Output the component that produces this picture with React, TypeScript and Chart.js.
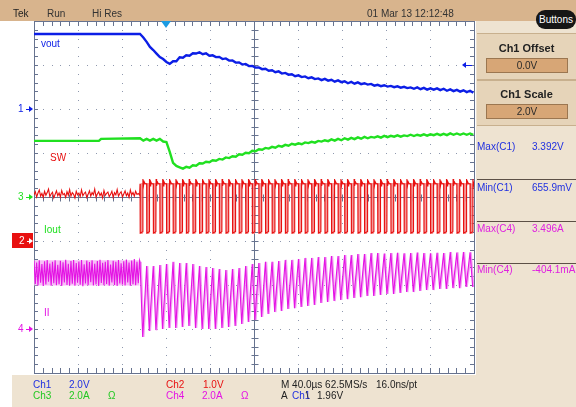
import React, { useEffect, useRef } from "react";
import { Chart, registerables } from "chart.js";

Chart.register(...registerables);

// ---------------- acquisition settings ----------------
const timeMinUs = -120;
const timeMaxUs = 280;
const timePerDivUs = 40;
const gridDivsX = 10;
const gridDivsY = 8;

const ch1VoltsPerDiv = 2.0;
const ch1PosDiv = 2;
const ch2VoltsPerDiv = 1.0;
const ch2PosDiv = -1;
const ch3AmpsPerDiv = 2.0;
const ch3PosDiv = 0;
const ch4AmpsPerDiv = 2.0;
const ch4PosDiv = -3;

// ---------------- data ----------------
const preSampleUs = 1.2; // spacing of the pre-step samples, from timeMinUs
const postStartUs = -23.6; // load step
const postSampleUs = 3.0; // spacing of the vout / iout samples after the step

// Ch1 vout (V)
const voutPreTimesUs = [-120, -23.6];
const voutPreV = [3.41, 3.41];
const voutPostV = [
  3.41, 3.25, 3.05, 2.82, 2.68, 2.52, 2.36, 2.27, 2.14, 2.05,
  2.17, 2.17, 2.35, 2.33, 2.44, 2.42, 2.53, 2.52, 2.58, 2.49,
  2.53, 2.42, 2.44, 2.36, 2.37, 2.27, 2.3, 2.2, 2.21, 2.11,
  2.12, 2.02, 2.05, 1.95, 1.96, 1.88, 1.89, 1.81, 1.83, 1.74,
  1.76, 1.67, 1.71, 1.61, 1.64, 1.56, 1.58, 1.49, 1.53, 1.45,
  1.48, 1.4, 1.44, 1.36, 1.39, 1.31, 1.37, 1.29, 1.33, 1.24,
  1.3, 1.22, 1.26, 1.17, 1.23, 1.15, 1.21, 1.13, 1.17, 1.11,
  1.14, 1.06, 1.1, 1.04, 1.08, 1.02, 1.05, 0.99, 1.03, 0.97,
  1.01, 0.95, 0.98, 0.92, 0.98, 0.9, 0.96, 0.88, 0.94, 0.88,
  0.94, 0.86, 0.92, 0.83, 0.89, 0.81, 0.87, 0.79, 0.85, 0.77,
  0.83, 0.74,
];

// Ch3 Iout (A)
const ioutPreTimesUs = [-120, -61, -59];
const ioutPreA = [2.55, 2.55, 2.64];
const ioutPostA = [
  2.67, 2.56, 2.64, 2.56, 2.64, 2.56, 2.64, 2.52, 2.5, 2.05,
  1.55, 1.41, 1.35, 1.29, 1.37, 1.33, 1.44, 1.42, 1.53, 1.52,
  1.6, 1.58, 1.67, 1.65, 1.73, 1.7, 1.8, 1.77, 1.85, 1.83,
  1.94, 1.92, 2.01, 1.99, 2.1, 2.08, 2.17, 2.15, 2.23, 2.2,
  2.28, 2.24, 2.33, 2.29, 2.37, 2.33, 2.42, 2.38, 2.44, 2.4,
  2.48, 2.45, 2.51, 2.47, 2.55, 2.52, 2.58, 2.54, 2.62, 2.56,
  2.64, 2.58, 2.67, 2.61, 2.69, 2.63, 2.71, 2.65, 2.73, 2.67,
  2.73, 2.7, 2.76, 2.7, 2.78, 2.72, 2.78, 2.74, 2.8, 2.74,
  2.8, 2.77, 2.83, 2.77, 2.83, 2.79, 2.85, 2.79, 2.85, 2.81,
  2.87, 2.81, 2.87, 2.81, 2.89, 2.83, 2.89, 2.83, 2.89, 2.83,
  2.89, 2.83,
];

// Ch2 SW (V): pre-step samples, then switching cycles
const swPreV = [
  1.05, 1.12, 1.0, 1.09, 1.16, 1.02, 1.08, 0.99, 1.13, 1.04,
  1.1, 1.18, 1.01, 1.07, 1.11, 0.98, 1.06, 1.14, 1.03, 1.09,
  1.0, 1.15, 1.05, 1.08, 0.99, 1.12, 1.04, 1.17, 1.02, 1.1,
  1.06, 0.98, 1.13, 1.05, 1.09, 1.01, 1.16, 1.03, 1.08, 1.11,
  0.99, 1.06, 1.14, 1.02, 1.1, 1.05, 1.18, 1.0, 1.07, 1.12,
  1.03, 1.09, 0.98, 1.15, 1.04, 1.08, 1.11, 1.01, 1.06, 1.13,
  0.99, 1.1, 1.05, 1.17, 1.02, 1.08, 1.12, 1.0, 1.07, 1.14,
  1.03, 1.09, 0.99, 1.16, 1.05, 1.1, 1.02, 1.13, 1.06, 1.08,
  1.04,
];
const swFallUs = [
  -23.6, -17.6, -11.6, -5.6, 0.4, 6.4, 12.4, 18.4, 24.4, 30.4,
  36.4, 42.4, 48.4, 54.4, 60.4, 66.4, 72.4, 78.4, 84.4, 90.4,
  96.4, 102.4, 108.4, 114.4, 120.4, 126.4, 132.4, 138.4, 144.4, 150.4,
  156.4, 162.4, 168.4, 174.4, 180.4, 186.4, 192.4, 198.4, 204.4, 210.4,
  216.4, 222.4, 228.4, 234.4, 240.4, 246.4, 252.4, 258.4, 264.4, 270.4,
  276.4,
];
const swHighV = 1.3;
const swSpikeV = 1.41;
const swLowV = 0.18;
const swLowUs = 2.4;

// Ch4 inductor current (A)
const ilPreA = [
  3.1, 2.05, 3.02, 1.98, 3.12, 2.1, 2.95, 1.96, 3.08, 2.02,
  3.14, 2.15, 2.98, 1.97, 3.05, 2.08, 3.12, 1.99, 2.92, 2.04,
  3.1, 1.96, 3.03, 2.12, 3.15, 2.0, 2.96, 1.98, 3.09, 2.06,
  3.13, 1.97, 3.0, 2.1, 3.07, 2.01, 3.14, 1.95, 2.94, 2.07,
  3.11, 1.99, 3.04, 2.13, 3.12, 1.98, 2.97, 2.03, 3.09, 1.96,
  3.15, 2.09, 3.01, 1.99, 3.06, 2.05, 3.13, 1.97, 2.93, 2.11,
  3.1, 2.0, 3.05, 1.96, 3.14, 2.07, 2.99, 2.02, 3.08, 1.98,
  3.16, 2.12, 3.02, 1.97, 3.11, 2.04, 3.18, 1.99, 3.06, 2.08,
  3.12,
];
const ilPreBandTimesUs = [-120, -24];
const ilPreBandHiA = [3.12, 3.12];
const ilPreBandLoA = [1.98, 1.98];
const ilPeakA = [
  3.05, 2.86, 2.86, 2.91, 2.95, 3.05, 3.0, 3.0, 2.95, 2.86,
  2.82, 2.77, 2.73, 2.68, 2.73, 2.77, 2.86, 2.95, 3.0, 3.05,
  3.05, 3.09, 3.14, 3.14, 3.18, 3.23, 3.23, 3.27, 3.27, 3.32,
  3.32, 3.36, 3.36, 3.41, 3.41, 3.45, 3.45, 3.43, 3.45, 3.46,
  3.44, 3.45, 3.47, 3.45, 3.44, 3.46, 3.45, 3.5, 3.48, 3.5,
  3.49,
];
const ilValleyA = [
  -0.36, -0.09, -0.05, 0.0, 0.05, 0.05, 0.09, 0.14, 0.05, 0.0,
  0.0, 0.0, 0.05, 0.09, 0.14, 0.23, 0.32, 0.41, 0.55, 0.68,
  0.77, 0.82, 0.91, 0.95, 1.0, 1.05, 1.09, 1.18, 1.23, 1.27,
  1.32, 1.36, 1.41, 1.45, 1.5, 1.5, 1.55, 1.59, 1.59, 1.64,
  1.68, 1.68, 1.73, 1.77, 1.77, 1.82, 1.82, 1.86, 1.86, 1.91,
  1.91,
];

// ---------------- styling ----------------
const FONT = "'Liberation Sans', Arial, sans-serif";
const cBlue = "#0c1ee6";
const cGreen = "#20e020";
const cRed = "#e81010";
const cRedGhost = "rgba(244,140,140,0.9)";
const cMag = "#e414e4";
const cMagGhost = "rgba(242,150,242,0.9)";
const axisColor = "#67738f";
const dotColor = "#8e98ae";

type P = { x: number; y: number };
const pairs = (ts: number[], vs: number[]): P[] => ts.map((t, i) => ({ x: t, y: vs[i] }));
const sampled = (start: number, step: number, vs: number[]): P[] =>
  vs.map((v, i) => ({ x: start + i * step, y: v }));

function buildSw(ghost: boolean): P[] {
  const pts: P[] = ghost ? [] : sampled(timeMinUs, preSampleUs, swPreV);
  swFallUs.forEach((t) => {
    if (ghost) {
      pts.push({ x: t + 0.7, y: swHighV }, { x: t + 0.85, y: swLowV }, { x: t + 1.6, y: swLowV }, { x: t + 1.75, y: swHighV });
    } else {
      pts.push(
        { x: t, y: swHighV },
        { x: t + 0.15, y: swLowV },
        { x: t + swLowUs, y: swLowV + 0.03 },
        { x: t + swLowUs + 0.2, y: swSpikeV },
        { x: t + swLowUs + 0.7, y: swHighV - 0.05 },
        { x: t + swLowUs + 1.3, y: swHighV + 0.05 },
        { x: t + swLowUs + 2.2, y: swHighV }
      );
    }
  });
  return pts;
}

function buildIl(shiftUs: number, withPre: boolean): P[] {
  const pts: P[] = withPre ? sampled(timeMinUs, preSampleUs, ilPreA) : [];
  swFallUs.forEach((t, k) => {
    pts.push({ x: t + shiftUs, y: ilPeakA[k] }, { x: t + shiftUs + swLowUs, y: ilValleyA[k] });
  });
  return pts;
}

const graticule = {
  id: "graticule",
  beforeDatasetsDraw(chart: any) {
    const ctx = chart.ctx;
    const xs = chart.scales.x;
    const ys = chart.scales.y;
    const px = (d: number) => Math.round(xs.getPixelForValue(timeMinUs + d * timePerDivUs));
    const py = (d: number) => Math.round(ys.getPixelForValue(d));
    const L = px(0), R = px(gridDivsX), T = py(gridDivsY / 2), B = py(-gridDivsY / 2);
    ctx.save();
    ctx.fillStyle = dotColor;
    for (let i = 1; i < gridDivsX; i++) {
      if (i === gridDivsX / 2) continue;
      for (let j = 1; j < gridDivsY * 5; j++) ctx.fillRect(px(i), py(-4 + j / 5), 1, 1);
    }
    for (let j = 1; j < gridDivsY; j++) {
      if (j === gridDivsY / 2) continue;
      for (let i = 1; i < gridDivsX * 5; i++) ctx.fillRect(px(i / 5), py(-4 + j), 1, 1);
    }
    ctx.strokeStyle = axisColor;
    ctx.lineWidth = 1;
    const cx = px(gridDivsX / 2) + 0.5, cy = py(0) + 0.5;
    ctx.beginPath();
    ctx.moveTo(cx, T); ctx.lineTo(cx, B);
    ctx.moveTo(L, cy); ctx.lineTo(R, cy);
    for (let j = 1; j < gridDivsY * 5; j++) {
      const y = py(-4 + j / 5) + 0.5;
      ctx.moveTo(cx - 3, y); ctx.lineTo(cx + 4, y);
      ctx.moveTo(L, y); ctx.lineTo(L + 4, y);
      ctx.moveTo(R, y); ctx.lineTo(R - 4, y);
    }
    for (let i = 1; i < gridDivsX * 5; i++) {
      const x = px(i / 5) + 0.5;
      ctx.moveTo(x, cy - 3); ctx.lineTo(x, cy + 4);
      ctx.moveTo(x, T); ctx.lineTo(x, T + 5);
      ctx.moveTo(x, B); ctx.lineTo(x, B - 5);
    }
    ctx.stroke();
    ctx.strokeRect(L + 0.5, T + 0.5, R - L, B - T);
    ctx.restore();
  },
};

const Txt = (p: any) => (
  <div
    style={{
      position: "absolute",
      left: p.x,
      top: p.y,
      transform: "translateY(-50%)",
      color: p.c || "#222",
      fontSize: p.s || 10,
      fontWeight: p.b ? 700 : 400,
      fontFamily: FONT,
      whiteSpace: "nowrap",
      lineHeight: 1,
    }}
  >
    {p.children}
  </div>
);

// small horizontal arrow: x = tip position, dir = 1 points right, -1 points left
const Arrow = (p: any) => {
  const len = p.len || 7;
  const left = p.dir > 0 ? p.x - len : p.x;
  return (
    <div style={{ position: "absolute", left, top: p.y - 3, width: len, height: 7 }}>
      <div style={{ position: "absolute", left: p.dir > 0 ? 0 : 3, top: 3, width: len - 3, height: 1, background: p.c }} />
      <div
        style={{
          position: "absolute",
          left: p.dir > 0 ? len - 4 : 0,
          top: 0,
          width: 0,
          height: 0,
          borderTop: "3.5px solid transparent",
          borderBottom: "3.5px solid transparent",
          borderLeft: p.dir > 0 ? `4px solid ${p.c}` : undefined,
          borderRight: p.dir < 0 ? `4px solid ${p.c}` : undefined,
        }}
      />
    </div>
  );
};

const Btn = (p: any) => (
  <div
    style={{
      position: "absolute",
      left: 486,
      top: p.y,
      width: 80,
      height: 13,
      background: "#d7a676",
      border: "1px solid #9b7650",
      color: "#2a2a2a",
      fontSize: 10,
      fontFamily: FONT,
      textAlign: "center",
      lineHeight: "13px",
    }}
  >
    {p.children}
  </div>
);

const Sep = (p: any) => (
  <div style={{ position: "absolute", left: 477, top: p.y, width: 99, height: 1, background: "#5c5046" }} />
);

export default function App() {
  const ref = useRef<HTMLCanvasElement>(null);
  useEffect(() => {
    const lineDs = (label: string, data: P[], yAxisID: string, color: string, width: number, order: number) => ({
      label, data, yAxisID, borderColor: color, borderWidth: width, pointRadius: 0, tension: 0, fill: false, order,
    });
    const chart = new Chart(ref.current as HTMLCanvasElement, {
      type: "line",
      data: {
        datasets: [
          lineDs("vout", [...pairs(voutPreTimesUs, voutPreV), ...sampled(postStartUs, postSampleUs, voutPostV)], "y1", cBlue, 2.4, 1),
          lineDs("Iout", [...pairs(ioutPreTimesUs, ioutPreA), ...sampled(postStartUs, postSampleUs, ioutPostA)], "y3", cGreen, 2.4, 2),
          lineDs("SW", buildSw(false), "y2", cRed, 1.1, 3),
          lineDs("SW persist", buildSw(true), "y2", cRedGhost, 1.6, 4),
          lineDs("IL", buildIl(0, true), "y4", cMag, 1.1, 5),
          lineDs("IL persist", buildIl(0.8, false), "y4", cMagGhost, 1.8, 6),
          {
            ...lineDs("IL band hi", pairs(ilPreBandTimesUs, ilPreBandHiA), "y4", "rgba(0,0,0,0)", 0, 7),
            fill: "+1",
            backgroundColor: "rgba(244,170,244,0.75)",
          },
          lineDs("IL band lo", pairs(ilPreBandTimesUs, ilPreBandLoA), "y4", "rgba(0,0,0,0)", 0, 8),
        ],
      } as any,
      options: {
        animation: false,
        responsive: false,
        devicePixelRatio: 1,
        layout: { padding: { left: 34, right: 102, top: 21, bottom: 34 } },
        plugins: { legend: { display: false }, tooltip: { enabled: false } },
        events: [],
        scales: {
          x: { type: "linear", min: timeMinUs, max: timeMaxUs, display: false },
          y: { type: "linear", min: -gridDivsY / 2, max: gridDivsY / 2, display: false },
          y1: { type: "linear", min: (-4 - ch1PosDiv) * ch1VoltsPerDiv, max: (4 - ch1PosDiv) * ch1VoltsPerDiv, display: false },
          y2: { type: "linear", min: (-4 - ch2PosDiv) * ch2VoltsPerDiv, max: (4 - ch2PosDiv) * ch2VoltsPerDiv, display: false },
          y3: { type: "linear", min: (-4 - ch3PosDiv) * ch3AmpsPerDiv, max: (4 - ch3PosDiv) * ch3AmpsPerDiv, display: false },
          y4: { type: "linear", min: (-4 - ch4PosDiv) * ch4AmpsPerDiv, max: (4 - ch4PosDiv) * ch4AmpsPerDiv, display: false },
        },
      } as any,
      plugins: [graticule],
    });
    return () => chart.destroy();
  }, []);

  return (
    <div style={{ position: "fixed", left: 0, top: 0, width: 576, height: 407, background: "#fff", overflow: "hidden", fontFamily: FONT }}>
      {/* frame backgrounds */}
      <div style={{ position: "absolute", left: 0, top: 0, width: 576, height: 21, background: "#d8b48d" }} />
      <div style={{ position: "absolute", left: 476, top: 21, width: 100, height: 386, background: "#eee3d1" }} />
      <div style={{ position: "absolute", left: 12, top: 375, width: 564, height: 32, background: "#eee3d1" }} />
      <div style={{ position: "absolute", left: 477, top: 33, width: 99, height: 45, background: "#e6d4b9", borderTop: "1px solid #c8b08e", borderBottom: "1px solid #c8b08e" }} />
      <div style={{ position: "absolute", left: 477, top: 80, width: 99, height: 44, background: "#e6d4b9", borderTop: "1px solid #c8b08e", borderBottom: "1px solid #c8b08e" }} />

      <canvas ref={ref} width={576} height={407} style={{ position: "absolute", left: 0, top: 0, width: 576, height: 407 }} />

      {/* top bar */}
      <Txt x={13} y={14}>Tek</Txt>
      <Txt x={47} y={14} c="#333">Run</Txt>
      <Txt x={92} y={14} c="#333">Hi Res</Txt>
      <Txt x={367} y={14} c="#333">01 Mar 13 12:12:48</Txt>
      <div style={{ position: "absolute", left: 536, top: 10, width: 40, height: 19, borderRadius: 9, background: "#161616", color: "#fff", fontSize: 10, fontFamily: FONT, textAlign: "center", lineHeight: "19px" }}>Buttons</div>
      <div style={{ position: "absolute", left: 161, top: 21, width: 0, height: 0, borderLeft: "5px solid transparent", borderRight: "5px solid transparent", borderTop: "7px solid #1c9be2" }} />

      {/* channel markers */}
      <Txt x={18} y={109} c={cBlue}>1</Txt>
      <Arrow x={33} y={109} dir={1} c={cBlue} />
      <Txt x={18} y={197} c={cGreen}>3</Txt>
      <Arrow x={33} y={197} dir={1} c={cGreen} />
      <div style={{ position: "absolute", left: 12, top: 233, width: 21, height: 15, background: "#e81010" }} />
      <Txt x={19} y={241} c="#fff">2</Txt>
      <Arrow x={33} y={241} dir={1} c="#fff" len={6} />
      <Txt x={18} y={329} c={cMag}>4</Txt>
      <Arrow x={33} y={329} dir={1} c={cMag} />
      <Arrow x={462} y={65} dir={-1} c={cBlue} len={10} />

      {/* trace labels */}
      <Txt x={41} y={44} c={cBlue}>vout</Txt>
      <Txt x={50} y={158} c={cRed}>SW</Txt>
      <Txt x={44} y={230} c={cGreen}>Iout</Txt>
      <Txt x={44} y={313} c={cMag}>II</Txt>

      {/* right panel */}
      <div style={{ position: "absolute", left: 477, top: 42, width: 99, textAlign: "center", fontSize: 11, fontWeight: 700, color: "#222", fontFamily: FONT }}>Ch1 Offset</div>
      <Btn y={58}>0.0V</Btn>
      <div style={{ position: "absolute", left: 477, top: 88, width: 99, textAlign: "center", fontSize: 11, fontWeight: 700, color: "#222", fontFamily: FONT }}>Ch1 Scale</div>
      <Btn y={104}>2.0V</Btn>
      <Txt x={477} y={147} c="#2030e0">Max(C1)</Txt>
      <Txt x={532} y={147} c="#2030e0">3.392V</Txt>
      <Sep y={179} />
      <Txt x={477} y={188} c="#2030e0">Min(C1)</Txt>
      <Txt x={532} y={188} c="#2030e0">655.9mV</Txt>
      <Sep y={221} />
      <Txt x={477} y={229} c="#e020e0">Max(C4)</Txt>
      <Txt x={532} y={229} c="#e020e0">3.496A</Txt>
      <Sep y={263} />
      <Txt x={477} y={270} c="#e020e0">Min(C4)</Txt>
      <Txt x={532} y={270} c="#e020e0">-404.1mA</Txt>

      {/* bottom readout */}
      <Txt x={33} y={385} c="#2030e0">Ch1</Txt>
      <Txt x={69} y={385} c="#2030e0">2.0V</Txt>
      <Txt x={166} y={385} c={cRed}>Ch2</Txt>
      <Txt x={203} y={385} c={cRed}>1.0V</Txt>
      <Txt x={281} y={385}>M 40.0µs 62.5MS/s</Txt>
      <Txt x={376} y={385}>16.0ns/pt</Txt>
      <Txt x={33} y={396} c="#22c822">Ch3</Txt>
      <Txt x={69} y={396} c="#22c822">2.0A</Txt>
      <Txt x={108} y={396} c="#22c822">Ω</Txt>
      <Txt x={166} y={396} c={cMag}>Ch4</Txt>
      <Txt x={202} y={396} c={cMag}>2.0A</Txt>
      <Txt x={241} y={396} c={cMag}>Ω</Txt>
      <Txt x={281} y={396}>A</Txt>
      <Txt x={292} y={396} c="#2030e0">Ch1</Txt>
      <Txt x={306} y={396}>\</Txt>
      <Txt x={317} y={396}>1.96V</Txt>
    </div>
  );
}
